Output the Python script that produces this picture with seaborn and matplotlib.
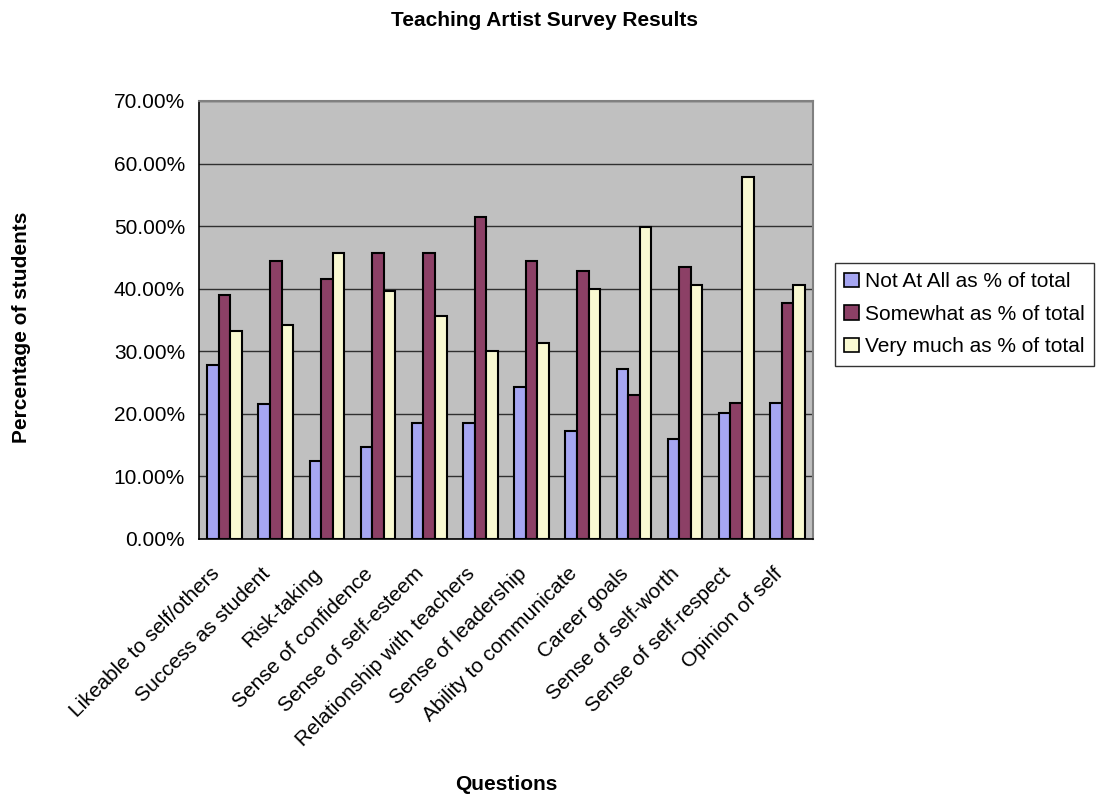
import numpy as np
import pandas as pd
import seaborn as sns
import matplotlib.pyplot as plt
import matplotlib.transforms as mtransforms
from matplotlib.ticker import FuncFormatter, FixedLocator

questions = ['Likeable to self/others', 'Success as student', 'Risk-taking',
             'Sense of confidence', 'Sense of self-esteem',
             'Relationship with teachers', 'Sense of leadership',
             'Ability to communicate', 'Career goals', 'Sense of self-worth',
             'Sense of self-respect', 'Opinion of self']
not_at_all = [27.8, 21.5, 12.5, 14.7, 18.6, 18.6, 24.3, 17.3, 27.2, 16.0, 20.1, 21.7]
somewhat = [39.0, 44.4, 41.6, 45.7, 45.7, 51.5, 44.4, 42.8, 23.0, 43.5, 21.7, 37.7]
very_much = [33.3, 34.2, 45.7, 39.6, 35.7, 30.0, 31.3, 40.0, 49.9, 40.6, 57.9, 40.6]
series = ['Not At All as % of total', 'Somewhat as % of total', 'Very much as % of total']
colors = ['#9999FF', '#993366', '#FFFFCC']

df = pd.DataFrame({
    'Questions': questions * 3,
    'value': not_at_all + somewhat + very_much,
    'series': np.repeat(series, len(questions)),
})

sns.set_style('white')
plt.rcParams['font.family'] = ['Liberation Sans', 'DejaVu Sans']
plt.rcParams['text.color'] = 'black'
plt.rcParams['axes.labelcolor'] = 'black'
plt.rcParams['xtick.color'] = 'black'
plt.rcParams['ytick.color'] = 'black'

fig = plt.figure(figsize=(11.12, 7.96), dpi=100)
ax = fig.add_axes([199 / 1112, 1 - 539 / 796, 614 / 1112, 438 / 796])
ax.set_facecolor('#C0C0C0')

sns.barplot(data=df, x='Questions', y='value', hue='series', palette=colors,
            width=0.68, edgecolor='black', linewidth=1.5, ax=ax, zorder=3)

ax.set_ylim(0, 70)
ax.set_xlim(-0.5, len(questions) - 0.5)
ax.set_yticks(np.arange(0, 71, 10))
ax.yaxis.set_major_formatter(FuncFormatter(lambda v, p: '%.2f%%' % v))
ax.grid(axis='y', color='#303030', linewidth=1, zorder=1)
ax.set_axisbelow(True)

# category boundaries get the tick marks, labels sit at the centres
ax.xaxis.set_minor_locator(FixedLocator(np.arange(-0.5, len(questions), 1)))
ax.tick_params(axis='x', which='minor', length=6, width=1, color='black', direction='out')
ax.tick_params(axis='x', which='major', length=0, pad=0, labelcolor='black')
ax.tick_params(axis='y', length=6, width=1, color='black', direction='out',
               labelsize=15, pad=4, labelcolor='black')
shift = mtransforms.ScaledTranslation(-0.15, -0.25, fig.dpi_scale_trans)
for lab in ax.get_xticklabels():
    lab.set_rotation(45)
    lab.set_ha('right')
    lab.set_va('top')
    lab.set_rotation_mode('anchor')
    lab.set_fontsize(15)
    lab.set_transform(lab.get_transform() + shift)

for s in ['top', 'right']:
    ax.spines[s].set_color('#808080')
    ax.spines[s].set_linewidth(1.5)
for s in ['left', 'bottom']:
    ax.spines[s].set_color('black')
    ax.spines[s].set_linewidth(1.2)

ax.set_xlabel('Questions', fontsize=15, fontweight='bold', va='center', color='black')
ax.xaxis.set_label_coords(0.5, (539 - 785) / 438)
ax.set_ylabel('Percentage of students', fontsize=15, fontweight='bold', va='center', color='black')
ax.yaxis.set_label_coords((22 - 199) / 614, (539 - 327) / 438)
fig.text(0.49, 1 - 20 / 796, 'Teaching Artist Survey Results', ha='center', va='center',
         fontsize=15, fontweight='bold', color='black')

leg = ax.legend(loc='upper left', bbox_to_anchor=(835 / 1112, 1 - 263 / 796),
                bbox_transform=fig.transFigure, frameon=True,
                fancybox=False, edgecolor='black', fontsize=15,
                handlelength=0.7, handleheight=0.7, handletextpad=0.3,
                borderpad=0.45, labelspacing=0.65, borderaxespad=0)
leg.get_frame().set_linewidth(1)
for t in leg.get_texts():
    t.set_color('black')
for h in leg.legend_handles:
    h.set_edgecolor('black')
    h.set_linewidth(1.2)

fig.savefig('out.png', dpi=100)
